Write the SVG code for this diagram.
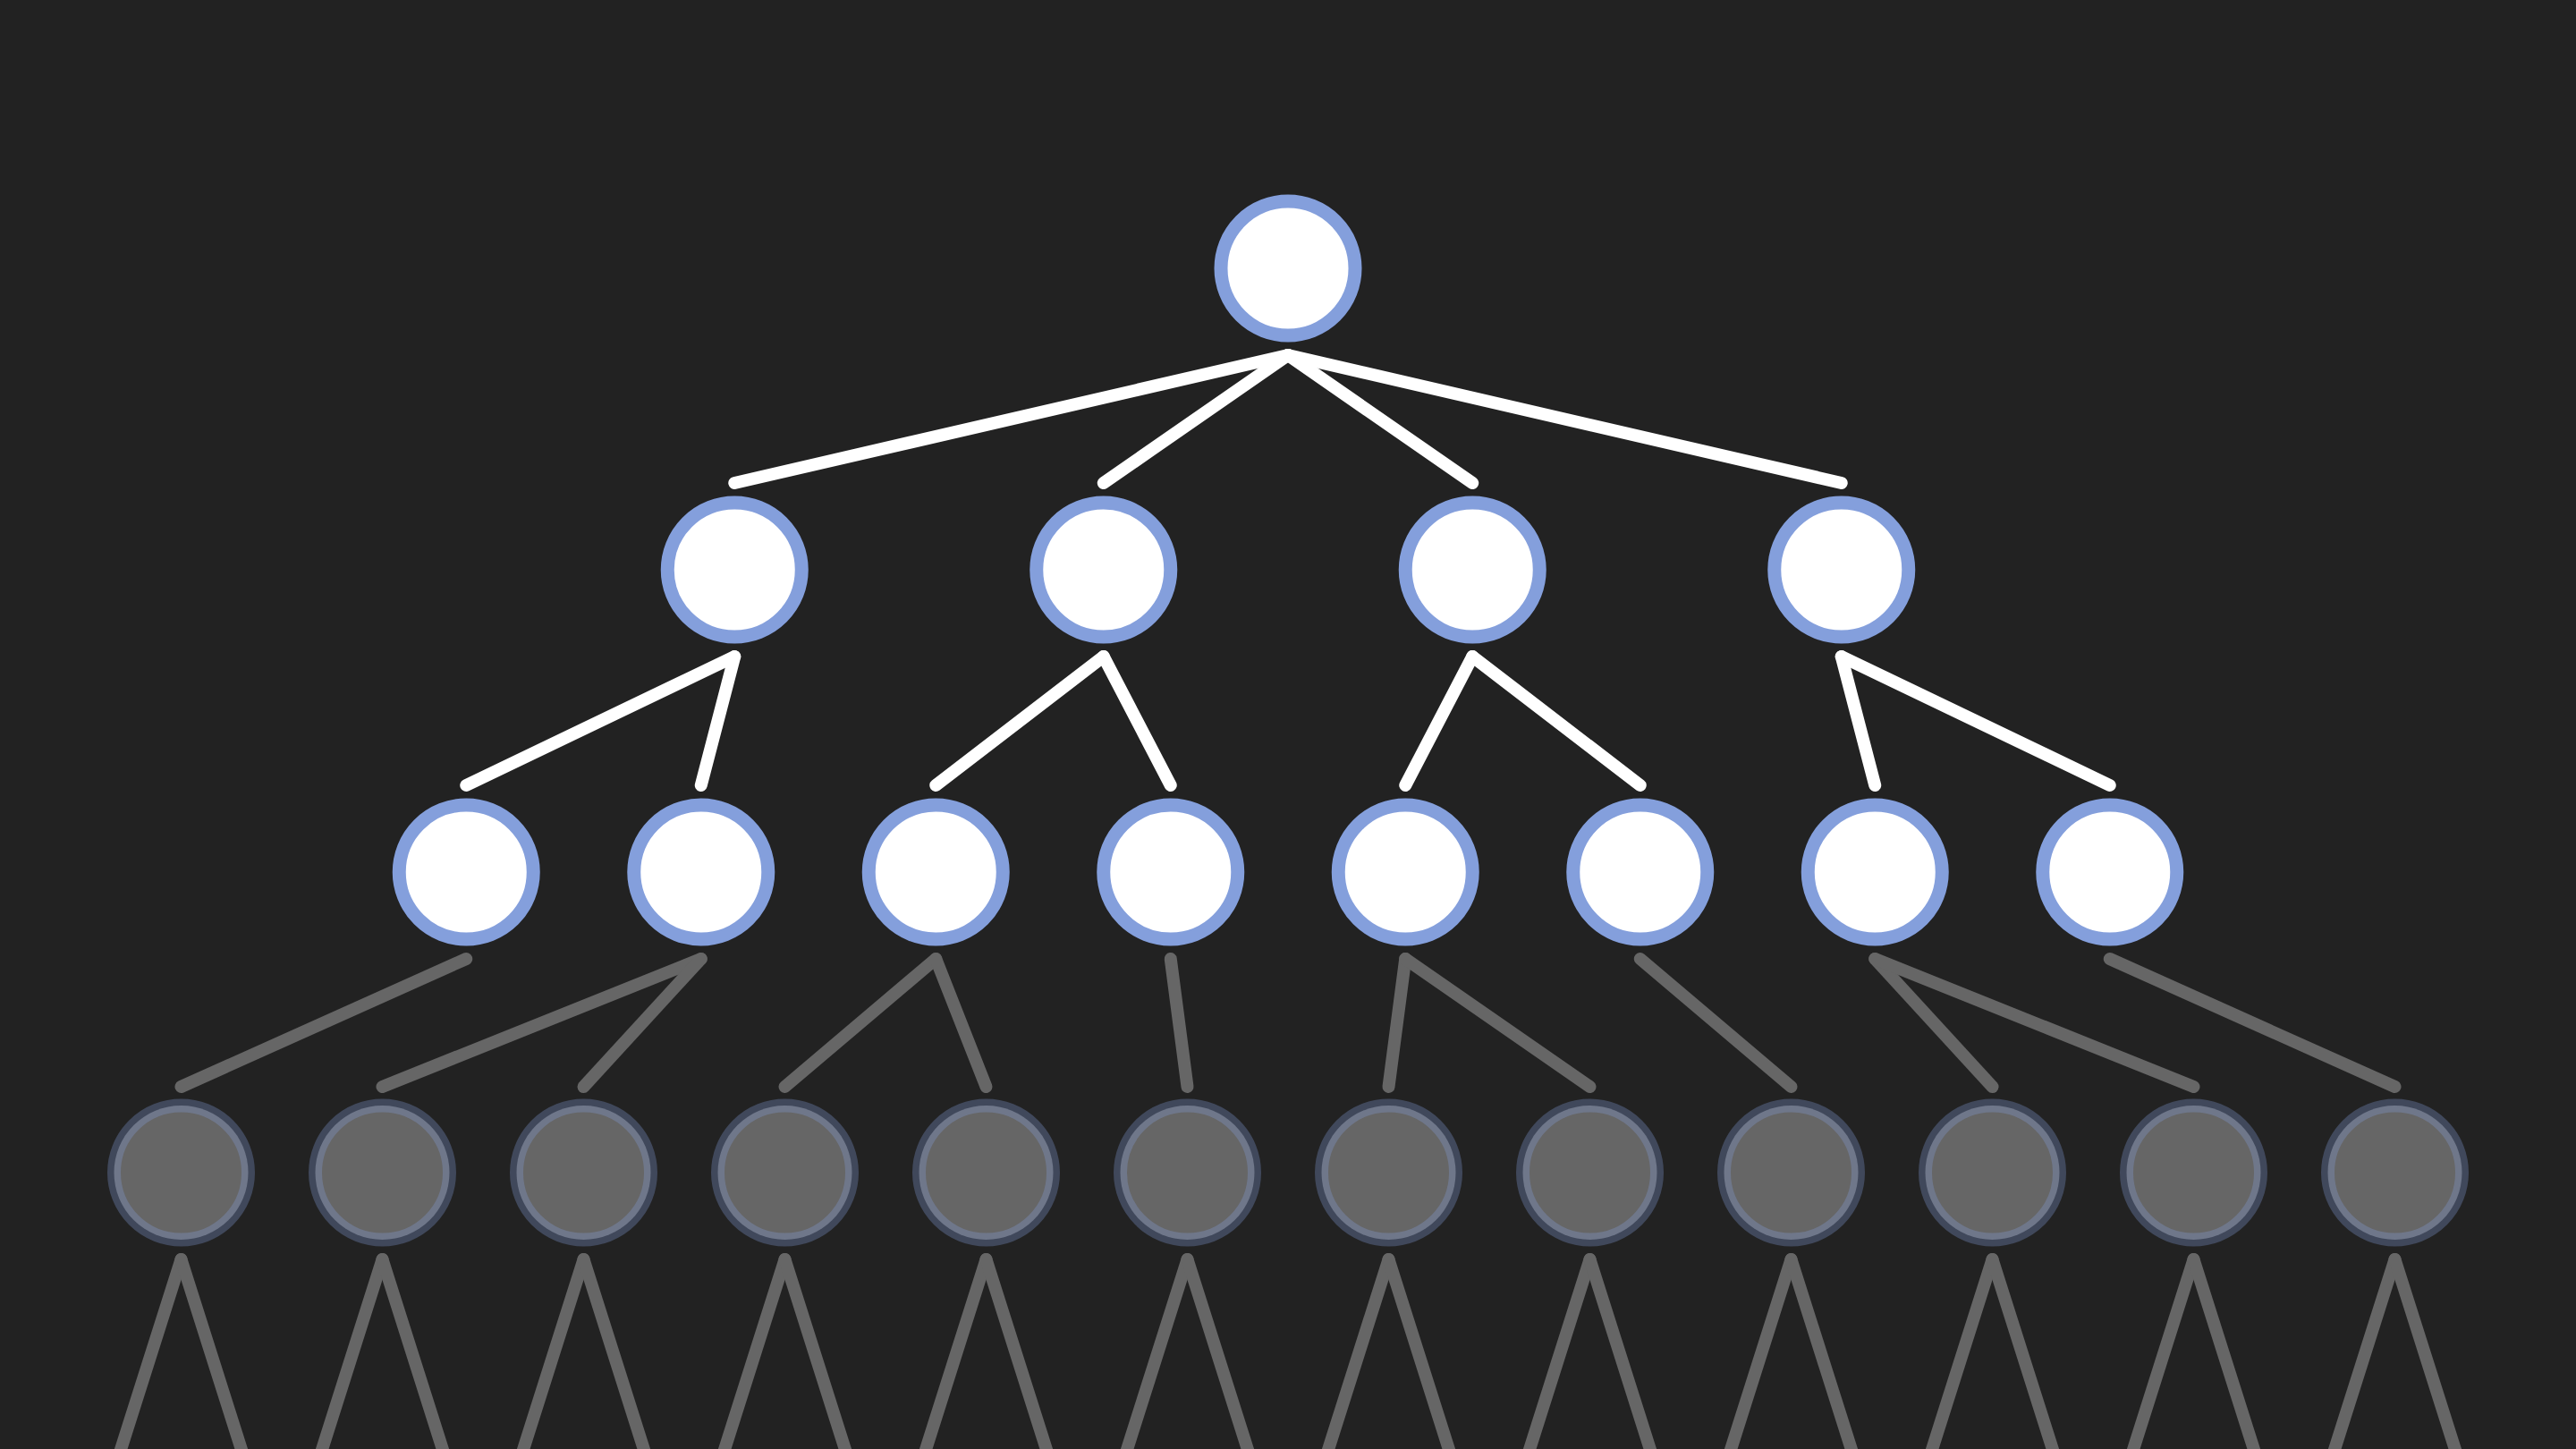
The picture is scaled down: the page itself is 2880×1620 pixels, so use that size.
<svg xmlns="http://www.w3.org/2000/svg" width="2880" height="1620" viewBox="0 0 2880 1620">
  <style>
    .e { stroke-width: 14; stroke-linecap: round; fill: none; }
    .ew { stroke: #ffffff; }
    .eg { stroke: #666666; }
    .na { fill: #ffffff; stroke: #849fdc; stroke-width: 15; }
    .ng { fill: #666666; stroke: #849fdc; stroke-opacity: 0.31; stroke-width: 15; }
  </style>
  <rect x="0" y="0" width="2880" height="1620" fill="#222222"/>
  <g id="connectors">
    <!-- root to level 1 -->
    <line class="e ew" x1="1440" y1="397" x2="821.25" y2="540"/>
    <line class="e ew" x1="1440" y1="397" x2="1233.75" y2="540"/>
    <line class="e ew" x1="1440" y1="397" x2="1646.25" y2="540"/>
    <line class="e ew" x1="1440" y1="397" x2="2058.75" y2="540"/>
    <!-- level 1 to level 2 -->
    <line class="e ew" x1="821.25" y1="734" x2="521.25" y2="878"/>
    <line class="e ew" x1="821.25" y1="734" x2="783.75" y2="878"/>
    <line class="e ew" x1="1233.75" y1="734" x2="1046.25" y2="878"/>
    <line class="e ew" x1="1233.75" y1="734" x2="1308.75" y2="878"/>
    <line class="e ew" x1="1646.25" y1="734" x2="1571.25" y2="878"/>
    <line class="e ew" x1="1646.25" y1="734" x2="1833.75" y2="878"/>
    <line class="e ew" x1="2058.75" y1="734" x2="2096.25" y2="878"/>
    <line class="e ew" x1="2058.75" y1="734" x2="2358.75" y2="878"/>
    <!-- level 2 to level 3 -->
    <line class="e eg" x1="521.25" y1="1072" x2="202.5" y2="1215"/>
    <line class="e eg" x1="783.75" y1="1072" x2="427.5" y2="1215"/>
    <line class="e eg" x1="783.75" y1="1072" x2="652.5" y2="1215"/>
    <line class="e eg" x1="1046.25" y1="1072" x2="877.5" y2="1215"/>
    <line class="e eg" x1="1046.25" y1="1072" x2="1102.5" y2="1215"/>
    <line class="e eg" x1="1308.75" y1="1072" x2="1327.5" y2="1215"/>
    <line class="e eg" x1="1571.25" y1="1072" x2="1552.5" y2="1215"/>
    <line class="e eg" x1="1571.25" y1="1072" x2="1777.5" y2="1215"/>
    <line class="e eg" x1="1833.75" y1="1072" x2="2002.5" y2="1215"/>
    <line class="e eg" x1="2096.25" y1="1072" x2="2227.5" y2="1215"/>
    <line class="e eg" x1="2096.25" y1="1072" x2="2452.5" y2="1215"/>
    <line class="e eg" x1="2358.75" y1="1072" x2="2677.5" y2="1215"/>
    <!-- level 3 to off-screen -->
    <line class="e eg" x1="202.5" y1="1408" x2="103.5" y2="1720"/>
    <line class="e eg" x1="202.5" y1="1408" x2="301.5" y2="1720"/>
    <line class="e eg" x1="427.5" y1="1408" x2="328.5" y2="1720"/>
    <line class="e eg" x1="427.5" y1="1408" x2="526.5" y2="1720"/>
    <line class="e eg" x1="652.5" y1="1408" x2="553.5" y2="1720"/>
    <line class="e eg" x1="652.5" y1="1408" x2="751.5" y2="1720"/>
    <line class="e eg" x1="877.5" y1="1408" x2="778.5" y2="1720"/>
    <line class="e eg" x1="877.5" y1="1408" x2="976.5" y2="1720"/>
    <line class="e eg" x1="1102.5" y1="1408" x2="1003.5" y2="1720"/>
    <line class="e eg" x1="1102.5" y1="1408" x2="1201.5" y2="1720"/>
    <line class="e eg" x1="1327.5" y1="1408" x2="1228.5" y2="1720"/>
    <line class="e eg" x1="1327.5" y1="1408" x2="1426.5" y2="1720"/>
    <line class="e eg" x1="1552.5" y1="1408" x2="1453.5" y2="1720"/>
    <line class="e eg" x1="1552.5" y1="1408" x2="1651.5" y2="1720"/>
    <line class="e eg" x1="1777.5" y1="1408" x2="1678.5" y2="1720"/>
    <line class="e eg" x1="1777.5" y1="1408" x2="1876.5" y2="1720"/>
    <line class="e eg" x1="2002.5" y1="1408" x2="1903.5" y2="1720"/>
    <line class="e eg" x1="2002.5" y1="1408" x2="2101.5" y2="1720"/>
    <line class="e eg" x1="2227.5" y1="1408" x2="2128.5" y2="1720"/>
    <line class="e eg" x1="2227.5" y1="1408" x2="2326.5" y2="1720"/>
    <line class="e eg" x1="2452.5" y1="1408" x2="2353.5" y2="1720"/>
    <line class="e eg" x1="2452.5" y1="1408" x2="2551.5" y2="1720"/>
    <line class="e eg" x1="2677.5" y1="1408" x2="2578.5" y2="1720"/>
    <line class="e eg" x1="2677.5" y1="1408" x2="2776.5" y2="1720"/>
  </g>
  <g id="n-root"><circle class="na" cx="1440" cy="300" r="75"/></g>
  <g id="n-1-0"><circle class="na" cx="821.25" cy="637" r="75"/></g>
  <g id="n-1-1"><circle class="na" cx="1233.75" cy="637" r="75"/></g>
  <g id="n-1-2"><circle class="na" cx="1646.25" cy="637" r="75"/></g>
  <g id="n-1-3"><circle class="na" cx="2058.75" cy="637" r="75"/></g>
  <g id="n-2-0"><circle class="na" cx="521.25" cy="975" r="75"/></g>
  <g id="n-2-1"><circle class="na" cx="783.75" cy="975" r="75"/></g>
  <g id="n-2-2"><circle class="na" cx="1046.25" cy="975" r="75"/></g>
  <g id="n-2-3"><circle class="na" cx="1308.75" cy="975" r="75"/></g>
  <g id="n-2-4"><circle class="na" cx="1571.25" cy="975" r="75"/></g>
  <g id="n-2-5"><circle class="na" cx="1833.75" cy="975" r="75"/></g>
  <g id="n-2-6"><circle class="na" cx="2096.25" cy="975" r="75"/></g>
  <g id="n-2-7"><circle class="na" cx="2358.75" cy="975" r="75"/></g>
  <g id="n-3-0"><circle class="ng" cx="202.5" cy="1311" r="75"/></g>
  <g id="n-3-1"><circle class="ng" cx="427.5" cy="1311" r="75"/></g>
  <g id="n-3-2"><circle class="ng" cx="652.5" cy="1311" r="75"/></g>
  <g id="n-3-3"><circle class="ng" cx="877.5" cy="1311" r="75"/></g>
  <g id="n-3-4"><circle class="ng" cx="1102.5" cy="1311" r="75"/></g>
  <g id="n-3-5"><circle class="ng" cx="1327.5" cy="1311" r="75"/></g>
  <g id="n-3-6"><circle class="ng" cx="1552.5" cy="1311" r="75"/></g>
  <g id="n-3-7"><circle class="ng" cx="1777.5" cy="1311" r="75"/></g>
  <g id="n-3-8"><circle class="ng" cx="2002.5" cy="1311" r="75"/></g>
  <g id="n-3-9"><circle class="ng" cx="2227.5" cy="1311" r="75"/></g>
  <g id="n-3-10"><circle class="ng" cx="2452.5" cy="1311" r="75"/></g>
  <g id="n-3-11"><circle class="ng" cx="2677.5" cy="1311" r="75"/></g>
</svg>
